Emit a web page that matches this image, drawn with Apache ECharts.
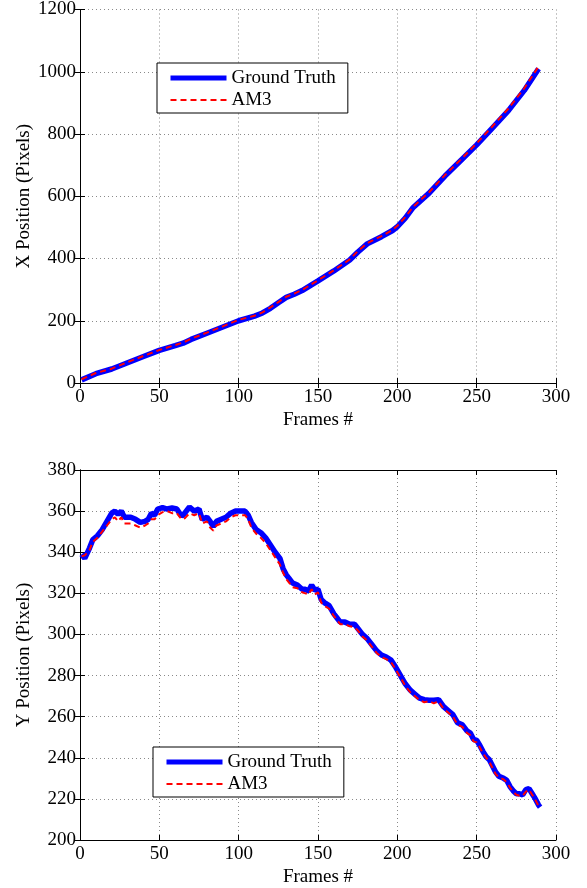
<!DOCTYPE html>
<html>
<head>
<meta charset="utf-8">
<script src="https://cdn.jsdelivr.net/npm/echarts@6/dist/echarts.min.js"></script>
<style>
  html, body { margin: 0; padding: 0; background: #fff; }
  #chart { width: 587px; height: 888px; }
</style>
</head>
<body>
<div id="chart"></div>
<script>
// top panel: X position over frames
const topFrames = [1, 10, 20, 30, 40, 50, 60, 65, 70, 80, 90, 100, 110, 115, 120, 125, 130, 135, 140, 150,
  160, 170, 175, 181, 190, 197, 200, 205, 210, 220, 230, 240, 250, 260, 270, 280, 289];
const topTruth = [10, 30, 45, 65, 85, 105, 120, 128, 140, 160, 180, 200, 215, 225, 240, 258, 275, 285, 297, 328,
  360, 395, 420, 447, 470, 490, 502, 530, 564, 610, 665, 715, 765, 820, 875, 940, 1010];
const topAM3 = [12, 32, 46, 67, 87, 106, 122, 130, 142, 162, 182, 203, 216, 227, 243, 260, 277, 287, 299, 330,
  362, 397, 423, 449, 472, 492, 505, 533, 566, 613, 668, 718, 770, 825, 882, 947, 1017];

// bottom panel: Y position over frames
const bottomFrames = [1, 3, 6, 8, 11, 14, 17, 20, 22, 24, 26, 28, 32, 35, 38, 41, 43, 45, 47, 49,
  52, 55, 58, 61, 64, 66, 69, 72, 75, 77, 80, 82, 84, 86, 89, 92, 95, 98, 101, 104,
  106, 108, 111, 114, 117, 120, 123, 126, 128, 130, 132, 134, 137, 140, 142, 144, 146, 148, 150, 152,
  154, 157, 160, 162, 164, 167, 170, 173, 175, 178, 181, 184, 187, 190, 193, 196, 199, 202, 205, 208,
  211, 214, 217, 220, 223, 226, 229, 232, 235, 238, 241, 244, 246, 248, 250, 252, 254, 256, 258, 260,
  262, 264, 267, 269, 271, 273, 275, 277, 279, 281, 283, 285, 287, 289, 290];
const bottomTruth = [339, 337, 342, 346, 348, 351, 355, 359, 360, 358.5, 360, 357, 357, 356, 354.5, 355, 356, 359, 358, 361,
  361.7, 361, 361.5, 361, 357.5, 359, 362, 360, 361, 356, 357, 355, 352.5, 355, 356, 357, 359, 360, 360, 360,
  358, 354.5, 351, 349.5, 347, 343.5, 340, 337, 332, 329, 327, 325, 324, 322, 322, 321, 324, 321.5, 322, 317,
  315.5, 314, 310, 308, 306, 306, 305, 305, 303, 300, 298, 295, 292, 290, 289, 287.5, 284, 280, 276, 273,
  271, 269, 268.3, 268, 268, 268.3, 265, 263, 261, 257, 256, 253, 252, 249, 248.5, 246, 243, 240.5, 239, 236,
  233, 231, 230, 229, 226, 224, 222.5, 222.5, 222, 224.5, 225, 222.5, 220, 217, 216];
const bottomAM3 = [338, 338.5, 341, 345, 347, 350, 353, 356, 357, 355, 357, 354, 354, 353, 352, 353, 354, 356, 356, 358,
  359.5, 360, 359, 359, 356, 356.5, 359, 358, 359, 354, 355, 352, 350.5, 353, 354, 355, 357, 358, 358, 358,
  356, 352, 349, 347, 344.5, 341, 337.5, 334, 330, 327, 325, 323, 322.5, 320.5, 320, 319.5, 322, 319.5, 320.5, 315.5,
  314, 312.5, 309, 307, 305, 305, 304, 303.5, 302, 299, 297, 294, 291, 289, 288, 286.5, 283, 279, 275, 272,
  270, 268, 267, 267.5, 266.5, 267.5, 264, 262, 260, 256, 255, 252, 251, 248, 247.5, 245, 242, 240, 238, 235,
  232, 230.5, 229.5, 228, 225.5, 223.5, 222, 221.5, 221.5, 223.5, 224.5, 222, 219.5, 216.5, 215.5];

const font = "'Liberation Serif', 'DejaVu Serif', serif";
const pairs = (xs, ys) => xs.map((x, i) => [x, ys[i]]);

const chart = echarts.init(document.getElementById("chart"));

const gridLine = { show: true, lineStyle: { color: "#8a8a8a", type: [1, 3], width: 1 } };
const axisLineStyle = { show: true, lineStyle: { color: "#000", width: 1 } };
const tickStyle = { inside: true, length: 5, lineStyle: { color: "#000" } };
const labelStyle = { color: "#000", fontFamily: font, fontSize: 19, formatter: (v) => String(v) };
const nameStyle = { color: "#000", fontFamily: font, fontSize: 19 };

function xAxes(gridIndex) {
  return [
    {
      gridIndex, type: "value", min: 0, max: 300, interval: 50, position: "bottom",
      name: "Frames #", nameLocation: "middle", nameGap: 28, nameTextStyle: nameStyle,
      axisLine: axisLineStyle, axisTick: tickStyle,
      axisLabel: { ...labelStyle, margin: 5 }, splitLine: gridLine,
    },
    {
      gridIndex, type: "value", min: 0, max: 300, interval: 50, position: "top",
      axisLine: axisLineStyle, axisTick: tickStyle,
      axisLabel: { show: false }, splitLine: { show: false },
    },
  ];
}

function yAxes(gridIndex, min, max, interval, name) {
  return [
    {
      gridIndex, type: "value", min, max, interval, position: "left",
      name, nameLocation: "middle", nameGap: 46, nameMoveOverlap: false, nameTextStyle: nameStyle,
      axisLine: axisLineStyle, axisTick: tickStyle,
      axisLabel: { ...labelStyle, margin: 4 }, splitLine: gridLine,
    },
    {
      gridIndex, type: "value", min, max, interval, position: "right",
      axisLine: axisLineStyle, axisTick: tickStyle,
      axisLabel: { show: false }, splitLine: { show: false },
    },
  ];
}

function legendAt(left, top) {
  return {
    data: [
      { name: "Ground Truth", lineStyle: { width: 5 } },
      { name: "AM3", lineStyle: { width: 2 } },
    ],
    left, top, orient: "vertical",
    itemWidth: 56, itemHeight: 12, itemGap: 2,
    padding: [5, 12, 3, 11],
    borderColor: "#000", borderWidth: 1, borderRadius: 0,
    backgroundColor: "#fff",
    selectedMode: false,
    itemStyle: { opacity: 0 },
    textStyle: { color: "#000", fontFamily: font, fontSize: 19, lineHeight: 20 },
  };
}

const truthStyle = { color: "#0000ff", width: 5.5 };
const am3Style = { color: "#ff0000", width: 2, type: [6, 4] };

chart.setOption({
  animation: false,
  backgroundColor: "#fff",
  grid: [
    { left: 80, top: 8, width: 476, height: 375 },
    { left: 80, top: 470, width: 476, height: 376 },
  ],
  xAxis: [...xAxes(0), ...xAxes(1)],
  yAxis: [
    ...yAxes(0, 0, 1200, 200, "X Position (Pixels)"),
    ...yAxes(1, 200, 380, 20, "Y Position (Pixels)"),
  ],
  legend: [legendAt(157, 63), legendAt(153, 747)],
  series: [
    {
      name: "Ground Truth", type: "line", xAxisIndex: 0, yAxisIndex: 0,
      data: pairs(topFrames, topTruth), showSymbol: false, symbol: "none",
      color: "#0000ff", lineStyle: truthStyle, z: 2,
    },
    {
      name: "AM3", type: "line", xAxisIndex: 0, yAxisIndex: 0,
      data: pairs(topFrames, topAM3), showSymbol: false, symbol: "none",
      color: "#ff0000", lineStyle: am3Style, z: 3,
    },
    {
      name: "Ground Truth", type: "line", xAxisIndex: 2, yAxisIndex: 2,
      data: pairs(bottomFrames, bottomTruth), showSymbol: false, symbol: "none",
      color: "#0000ff", lineStyle: truthStyle, z: 2,
    },
    {
      name: "AM3", type: "line", xAxisIndex: 2, yAxisIndex: 2,
      data: pairs(bottomFrames, bottomAM3), showSymbol: false, symbol: "none",
      color: "#ff0000", lineStyle: am3Style, z: 3,
    },
  ],
});
</script>
</body>
</html>
